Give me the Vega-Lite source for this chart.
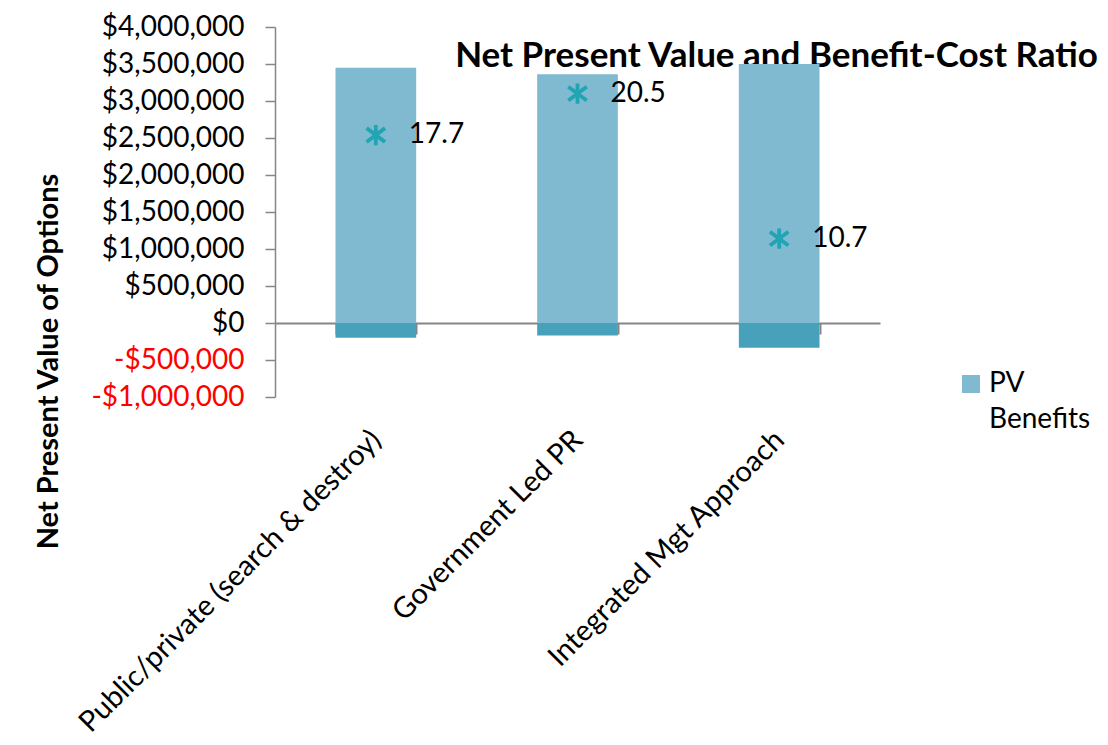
{
  "$schema": "https://vega.github.io/schema/vega-lite/v6.json",
  "autosize": "none",
  "width": 605,
  "height": 370,
  "padding": {"left": 275, "top": 27, "right": 228, "bottom": 348},
  "background": "white",
  "config": {
    "font": "Lato",
    "view": {"stroke": null},
    "style": {"guide-label": {"lineHeight": 36}}
  },
  "datasets": {
    "bars": [
      {"option": "Public/private (search & destroy)", "series": "PV Benefits", "value": 3450000},
      {"option": "Public/private (search & destroy)", "series": "PV Costs", "value": -200000},
      {"option": "Government Led PR", "series": "PV Benefits", "value": 3360000},
      {"option": "Government Led PR", "series": "PV Costs", "value": -170000},
      {"option": "Integrated Mgt Approach", "series": "PV Benefits", "value": 3500000},
      {"option": "Integrated Mgt Approach", "series": "PV Costs", "value": -335000}
    ],
    "ratios": [
      {"option": "Public/private (search & destroy)", "bcr": 17.7},
      {"option": "Government Led PR", "bcr": 20.5},
      {"option": "Integrated Mgt Approach", "bcr": 10.7}
    ]
  },
  "encoding": {
    "x": {
      "field": "option",
      "type": "nominal",
      "sort": ["Public/private (search & destroy)", "Government Led PR", "Integrated Mgt Approach"],
      "scale": {"paddingInner": 0.6, "paddingOuter": 0.3},
      "title": null,
      "axis": {
        "offset": -74,
        "domainColor": "#868686",
        "domainWidth": 2,
        "tickColor": "#868686",
        "tickWidth": 2,
        "tickSize": 11,
        "tickBand": "extent",
        "labelAngle": -45,
        "labelAlign": "right",
        "labelBaseline": "middle",
        "labelPadding": 101,
        "labelFontSize": 29,
        "labelColor": "black",
        "labelLimit": 700
      }
    }
  },
  "layer": [
    {
      "data": {"name": "bars"},
      "mark": {"type": "bar"},
      "encoding": {
        "y": {
          "field": "value",
          "type": "quantitative",
          "stack": "zero",
          "scale": {"domain": [-1000000, 4000000], "nice": false},
          "axis": {
            "values": [-1000000, -500000, 0, 500000, 1000000, 1500000, 2000000, 2500000, 3000000, 3500000, 4000000],
            "labelExpr": "(datum.value < 0 ? '-' : '') + '$' + format(abs(datum.value), ',')",
            "labelColor": {"condition": {"test": "datum.value < 0", "value": "#FF0000"}, "value": "black"},
            "labelFontSize": 28,
            "labelPadding": 21,
            "tickSize": 10,
            "tickColor": "#868686",
            "tickWidth": 1.5,
            "domainColor": "#868686",
            "domainWidth": 1.5,
            "grid": false,
            "title": "Net Present Value of Options",
            "titleFontSize": 29,
            "titleFontWeight": "bold",
            "titleColor": "black",
            "titleX": -227,
            "titleY": 334,
            "titleAngle": -90,
            "titleAlign": "center",
            "titleBaseline": "middle"
          }
        },
        "color": {
          "field": "series",
          "type": "nominal",
          "scale": {"domain": ["PV Benefits", "PV Costs"], "range": ["#7FBAD0", "#47A1BA"]},
          "legend": {
            "values": ["PV Benefits"],
            "title": null,
            "orient": "none",
            "legendX": 682,
            "legendY": 343,
            "symbolType": "square",
            "symbolSize": 324,
            "symbolStrokeWidth": 0,
            "labelFontSize": 28,
            "labelColor": "black",
            "labelOffset": 4,
            "labelExpr": "datum.label == 'PV Benefits' ? ['PV', 'Benefits'] : datum.label"
          }
        }
      }
    },
    {
      "data": {"name": "ratios"},
      "mark": {
        "type": "point",
        "shape": "M-1,-0.75L1,0.75M-1,0.75L1,-0.75M0,-1.1L0,1.1",
        "filled": false,
        "stroke": "#21A4B4",
        "strokeWidth": 3.8,
        "size": 340,
        "opacity": 1
      },
      "encoding": {
        "y": {
          "field": "bcr",
          "type": "quantitative",
          "scale": {"domain": [0, 25], "nice": false},
          "axis": {
            "orient": "right",
            "domain": false,
            "ticks": false,
            "labels": false,
            "grid": false,
            "title": "Net Present Value and Benefit-Cost Ratio",
            "titleFont": "Lato",
            "titleFontSize": 35,
            "titleFontWeight": "bold",
            "titleColor": "black",
            "titleAngle": 0,
            "titleAlign": "center",
            "titleBaseline": "alphabetic",
            "titleX": -104,
            "titleY": 39
          }
        }
      }
    },
    {
      "data": {"name": "ratios"},
      "mark": {"type": "text", "align": "left", "baseline": "middle", "dx": 33, "fontSize": 28, "color": "black"},
      "encoding": {
        "y": {"field": "bcr", "type": "quantitative", "scale": {"domain": [0, 25], "nice": false}, "axis": null},
        "text": {"field": "bcr", "type": "quantitative", "format": ".1f"}
      }
    }
  ],
  "resolve": {"scale": {"y": "independent"}}
}
